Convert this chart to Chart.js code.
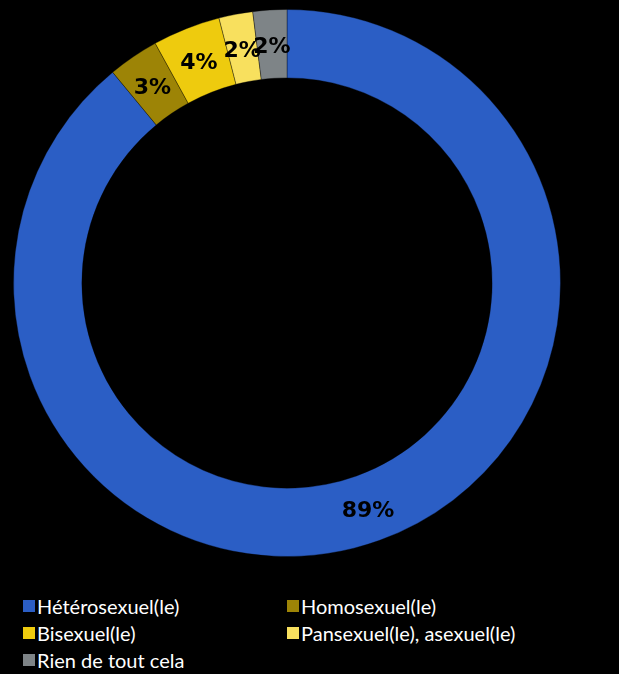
<!DOCTYPE html>
<html lang="fr">
<head>
    <meta charset="UTF-8">
    <title>Orientation sexuelle</title>
    <script src="https://cdn.jsdelivr.net/npm/chart.js"></script>
    <style>
        body {
            margin: 0;
            background-color: #000;
            width: 619px;
            height: 674px;
            overflow: hidden;
            font-family: 'Lato', 'DejaVu Sans', sans-serif;
        }
        .chart-box {
            position: absolute;
            left: 0;
            top: 0;
            width: 574px;
            height: 566px;
        }
        .legend {
            position: absolute;
            left: 23px;
            top: 595px;
            display: grid;
            grid-template-columns: 264px 330px;
            row-gap: 5px;
            color: #fff;
            font-size: 20px;
            line-height: 22px;
        }
        .legend span.item {
            display: flex;
            align-items: center;
            white-space: nowrap;
        }
        .legend span.box {
            display: inline-block;
            width: 12px;
            height: 12px;
            margin-right: 2px;
        }
    </style>
</head>
<body>
    <div class="chart-box"><canvas id="donut" width="574" height="566"></canvas></div>
    <div class="legend" id="legend"></div>

    <script>
        const categories = ["Hétérosexuel(le)", "Homosexuel(le)", "Bisexuel(le)", "Pansexuel(le), asexuel(le)", "Rien de tout cela"];
        const shares = [89, 3, 4, 2, 2];
        const sliceColors = ["#2B5EC5", "#9D8406", "#EECB0E", "#F8E05E", "#7E8487"];

        // percentage labels drawn in the middle of each ring slice
        const sliceLabels = {
            id: 'sliceLabels',
            afterDatasetsDraw(chart) {
                const ctx = chart.ctx;
                const meta = chart.getDatasetMeta(0);
                ctx.save();
                ctx.font = "bold 22px 'DejaVu Sans', sans-serif";
                ctx.fillStyle = "#000";
                ctx.textAlign = "center";
                ctx.textBaseline = "middle";
                meta.data.forEach((arc, i) => {
                    const p = arc.tooltipPosition();
                    ctx.fillText(shares[i] + "%", p.x, p.y + 3);
                });
                ctx.restore();
            }
        };

        new Chart(document.getElementById("donut"), {
            type: 'doughnut',
            data: {
                labels: categories,
                datasets: [{
                    data: shares,
                    backgroundColor: sliceColors,
                    borderColor: "rgba(0, 0, 0, 0.35)",
                    borderWidth: 1
                }]
            },
            options: {
                responsive: false,
                animation: false,
                cutout: '75%',
                layout: { padding: { top: 9, bottom: 9 } },
                plugins: {
                    legend: { display: false },
                    tooltip: { enabled: false }
                }
            },
            plugins: [sliceLabels]
        });

        let legend = document.getElementById("legend");
        categories.forEach((name, i) => {
            let item = document.createElement("span");
            item.className = "item";
            item.innerHTML = '<span class="box" style="background:' + sliceColors[i] + '"></span>' + name;
            legend.appendChild(item);
        });
    </script>
</body>
</html>
